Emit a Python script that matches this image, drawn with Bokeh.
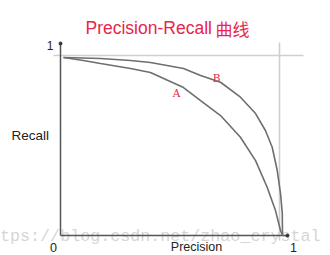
from bokeh.plotting import figure
from bokeh.embed import file_html
from bokeh.resources import INLINE
from bokeh.core.properties import value

# Data: precision (x) vs recall (y)
precision_A = [0.0, 0.091, 0.169, 0.306, 0.397, 0.548, 0.626, 0.717, 0.808, 0.877, 0.930, 0.968, 0.991, 1.0]
recall_A    = [1.0, 0.983, 0.966, 0.938, 0.916, 0.831, 0.758, 0.674, 0.552, 0.421, 0.271, 0.140, 0.028, 0.0]
precision_B = [0.0, 0.169, 0.306, 0.397, 0.548, 0.626, 0.717, 0.808, 0.877, 0.922, 0.953, 0.976, 0.991, 0.999, 1.0]
recall_B    = [1.0, 0.994, 0.983, 0.972, 0.938, 0.899, 0.861, 0.777, 0.685, 0.590, 0.496, 0.365, 0.236, 0.124, 0.0]
curve_names = ["A", "B"]
title_text = "Precision-Recall"
title_cjk = "曲线"
x_label = "Precision"
y_label = "Recall"
tick_labels = ["0", "1"]
watermark = "https://blog.csdn.net/zhao_crystal"

W, H = 330, 255
X0, XS = 63.0, 219.0   # pixel of P=0, pixels per unit
Y0, YS = 235.0, 178.0  # pixel of R=0, pixels per unit
TXT = -4.0             # baseline correction for text rendering

def dx(px):
    return (px - X0) / XS

def dy(py):
    return (Y0 - py) / YS

def ty(py):
    return dy(py + TXT)

p = figure(width=W, height=H, output_backend="svg", toolbar_location=None,
           x_range=(dx(0), dx(W)), y_range=(dy(H), dy(0)),
           min_border=0, outline_line_color=None)
p.axis.visible = False
p.grid.visible = False
p.background_fill_color = "white"
p.border_fill_color = "white"

# watermark
p.text(x=[dx(320)], y=[ty(240)], text=[watermark], text_font=value("Liberation Mono"),
       text_font_size="16.7px", text_color="#d6d6d6", text_align="right",
       text_baseline="alphabetic")

# light reference lines near recall=1 and precision=1
p.segment(x0=[dx(53)], y0=[dy(55)], x1=[dx(303)], y1=[dy(55)], line_color="#cfcfcf", line_width=1.6)
p.segment(x0=[dx(279)], y0=[dy(42)], x1=[dx(279)], y1=[dy(240)], line_color="#cfcfcf", line_width=1.6)

# axes
p.segment(x0=[dx(60)], y0=[dy(235)], x1=[dx(60)], y1=[dy(43)], line_color="#555555", line_width=1.5)
p.segment(x0=[dx(60)], y0=[dy(235)], x1=[dx(287)], y1=[dy(235)], line_color="#555555", line_width=1.5)
p.scatter(x=[dx(60), dx(287)], y=[dy(43), dy(235)], size=3, color="#333333")

# curves
p.line(precision_A, recall_A, line_color="#6e6e6e", line_width=1.6)
p.line(precision_B, recall_B, line_color="#6e6e6e", line_width=1.6)

# curve labels
p.text(x=[dx(176), dx(216)], y=[ty(96), ty(81)], text=curve_names,
       text_font=value("DejaVu Serif"), text_font_size="10.5px", text_color="#e8254a",
       text_align="center", text_baseline="alphabetic")

# axis texts
lab = dict(text_font=value("Liberation Sans"), text_color="#222222", text_baseline="alphabetic")
p.text(x=[dx(11)], y=[ty(139)], text=[y_label], text_font_size="13.5px", text_align="left", **lab)
p.text(x=[dx(196)], y=[ty(250.5)], text=[x_label], text_font_size="12.5px", text_align="center", **lab)
p.text(x=[dx(53), dx(293)], y=[ty(250.5), ty(250.5)], text=tick_labels, text_font_size="12.5px",
       text_align="center", **lab)
p.text(x=[dx(49.5)], y=[ty(48.5)], text=[tick_labels[1]], text_font_size="12px", text_align="center", **lab)

# title
p.text(x=[dx(85)], y=[ty(31.5)], text=[title_text], text_font=value("Liberation Sans"),
       text_font_size="17.5px", text_color="#e8254a", text_align="left", text_baseline="alphabetic")
p.text(x=[dx(215)], y=[ty(32)], text=[title_cjk], text_font=value("Noto Sans CJK SC"),
       text_font_size="17px", text_color="#e8254a", text_align="left", text_baseline="alphabetic")

open("out.html", "w").write(file_html(p, INLINE))
